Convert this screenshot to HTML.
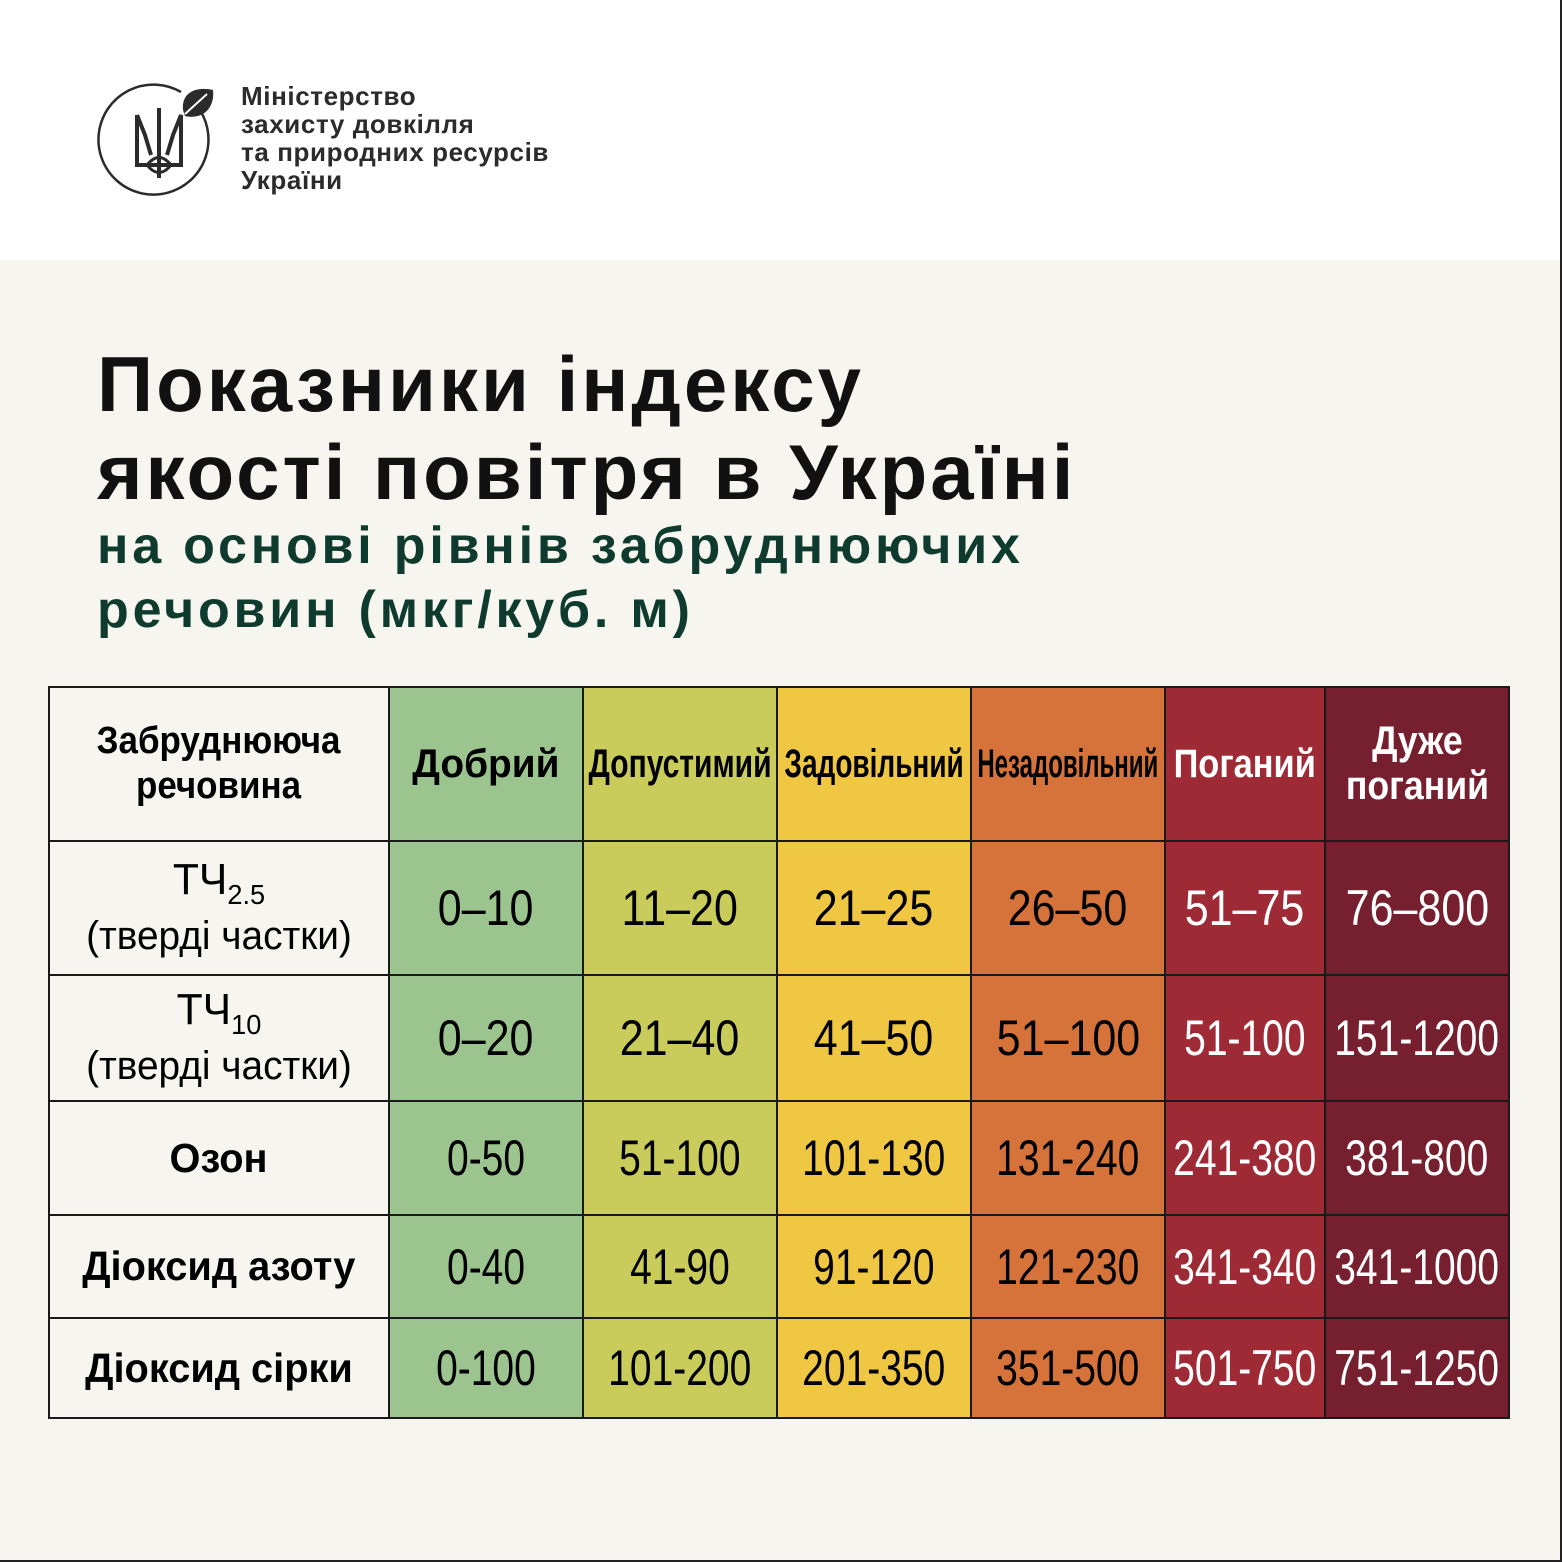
<!DOCTYPE html>
<html><head><meta charset="utf-8"><style>
*{margin:0;padding:0;box-sizing:border-box}
body{width:1562px;height:1562px;background:#fff;position:relative;overflow:hidden;font-family:"Liberation Sans","DejaVu Sans",sans-serif}
.bg{position:absolute;left:0;top:260px;width:1562px;height:1302px;background:#f7f5f0}
.logo{position:absolute;left:241px;top:82px;font-size:26px;font-weight:bold;line-height:28px;color:#2b2b2b;letter-spacing:.6px}
.h1{position:absolute;left:97px;top:340px;font-size:78px;font-weight:bold;line-height:88px;color:#111;letter-spacing:3px}
.h2{position:absolute;left:97px;top:514px;font-size:52px;font-weight:bold;line-height:64px;color:#0e3b2e;letter-spacing:3.8px}
.c{position:absolute;display:flex;align-items:center;justify-content:center;text-align:center;border:2px solid #1a1a1a;margin:-1px;white-space:nowrap}
.n span{display:inline-block;font-size:50px}
.hd span{display:inline-block;font-size:40px;font-weight:bold;line-height:45px}
.w{color:#fff}
</style></head><body>
<div class="bg"></div>
<div style="position:absolute;right:0;top:0;width:2px;height:1562px;background:#222"></div>
<div style="position:absolute;left:0;bottom:0;width:1562px;height:2px;background:#222"></div>
<svg style="position:absolute;left:97px;top:80px" width="125" height="125" viewBox="0 0 125 125">
<path d="M100 26 A55 55 0 1 1 84 12" fill="none" stroke="#2b2b2b" stroke-width="2.5"/>
<path d="M86 30 C84 12 100 6 116 10 C118 28 106 40 88 36 Z" fill="#2b2b2b"/>
<path d="M88 34 L110 14" stroke="#fff" stroke-width="2"/>
<path d="M40 35 V85 H84 V35 L76 55 L70 75 M40 35 L48 55 L54 75 M62 28 V98" fill="none" stroke="#2b2b2b" stroke-width="4"/>
<path d="M50 85 Q62 70 74 85 Q62 100 50 85" fill="none" stroke="#2b2b2b" stroke-width="3"/>
</svg>
<div class="logo">Міністерство<br>захисту довкілля<br>та природних ресурсів<br>України</div>
<div class="h1">Показники індексу<br>якості повітря в Україні</div>
<div class="h2">на основі рівнів забруднюючих<br>речовин (мкг/куб. м)</div>
<div id="t"></div>
<script>
var xs=[49,389,583,777,971,1165,1325,1509],ys=[687,841,975,1101,1215,1318,1418];
var cols=['#f7f5f0','#9bc48e','#c9cc5a','#efc742','#d6733a','#9e2a35','#761f2f'];
var hdr=['Забруднююча<br>речовина','Добрий','Допустимий','Задовільний','Незадовільний','Поганий','Дуже<br>поганий'];
var scl=[0,.97,.75,.70,.60,.86,.89];
var rows=[['TЧ','0–10','11–20','21–25','26–50','51–75','76–800'],['TЧ','0–20','21–40','41–50','51–100','51-100','151-1200'],['Озон','0-50','51-100','101-130','131-240','241-380','381-800'],['Діоксид азоту','0-40','41-90','91-120','121-230','341-340','341-1000'],['Діоксид сірки','0-100','101-200','201-350','351-500','501-750','751-1250']];
var h='';
function cell(ci,ri,html,cls){h+='<div class="c '+cls+(ci>=5?' w':'')+'" style="left:'+xs[ci]+'px;top:'+ys[ri]+'px;width:'+(xs[ci+1]-xs[ci]+2)+'px;height:'+(ys[ri+1]-ys[ri]+2)+'px;background:'+cols[ci]+'">'+html+'</div>';}
for(var c=0;c<7;c++){var sc=c==0?'transform:scaleX(.92);font-size:38px':'transform:scaleX('+scl[c]+')';cell(c,0,'<span style="'+sc+'">'+hdr[c]+'</span>','hd');}
for(var r=0;r<5;r++)for(var c=0;c<7;c++){var v=rows[r][c];
if(c==0){var t;if(r<2)t='<div style="font-size:44px;line-height:40px;transform:scaleX(.97)">ТЧ<sub style="font-size:28px">'+(r==0?'2.5':'10')+'</sub><br><span style="font-size:40px">(тверді частки)</span></div>';else t='<div style="font-size:41px;font-weight:bold;transform:scaleX(.97)">'+v+'</div>';cell(0,r+1,t,'');}
else{var s=v.indexOf('-')>=0?.78:.86;cell(c,r+1,'<span style="transform:scaleX('+s+')">'+v+'</span>','n');}}
document.getElementById('t').innerHTML=h;
</script>
</body></html>
